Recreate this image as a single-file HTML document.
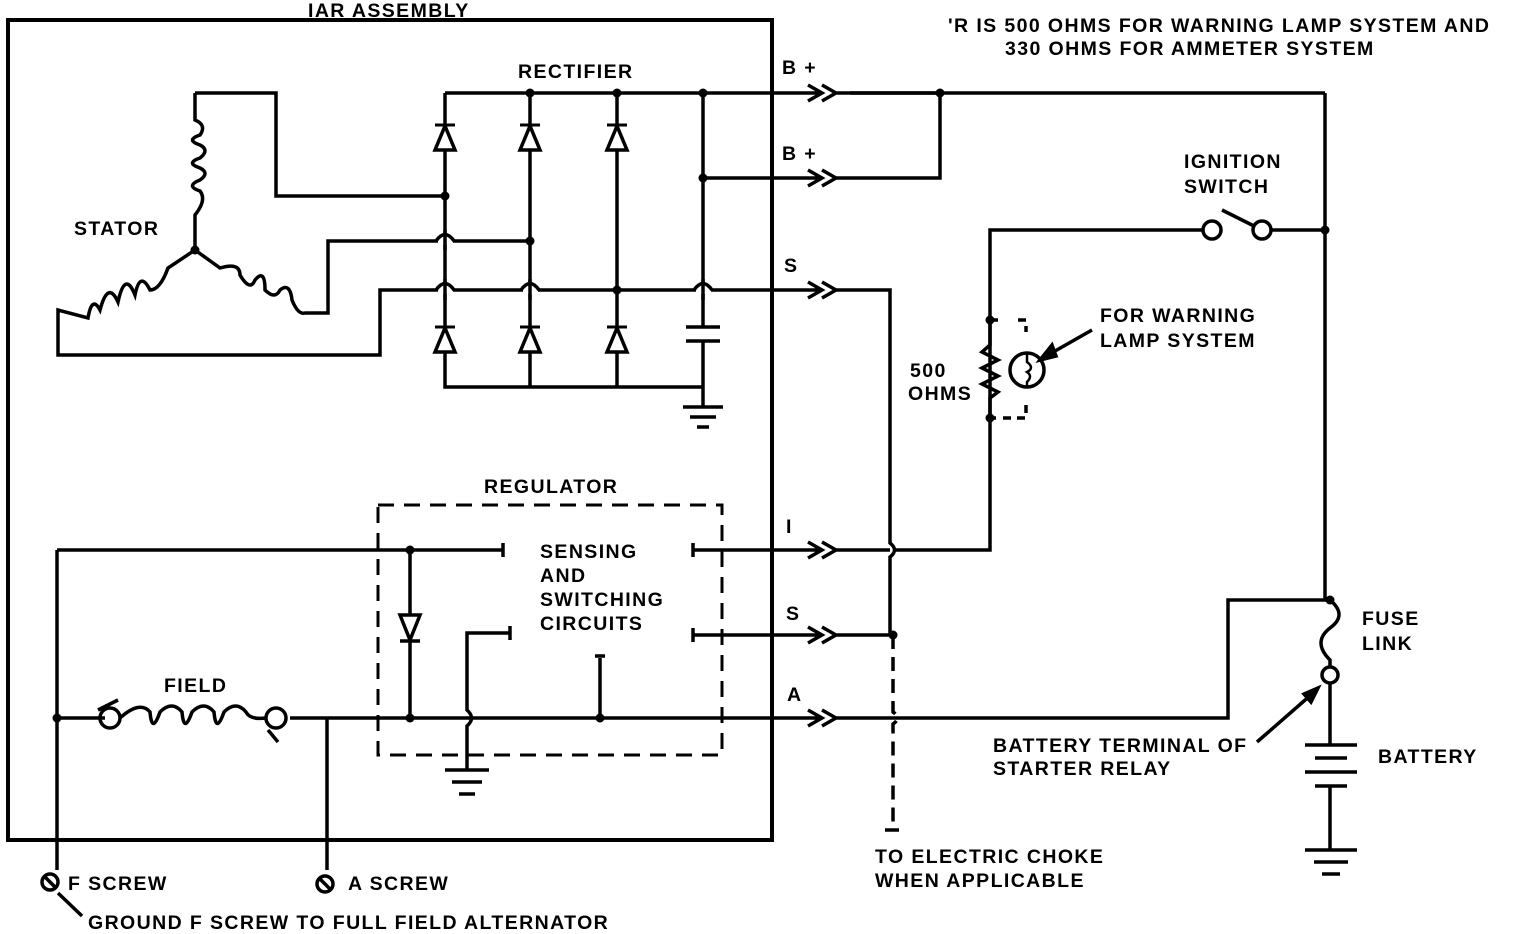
<!DOCTYPE html>
<html><head><style>
html,body{margin:0;padding:0;background:#fff;}
svg{display:block}
text{font-family:"Liberation Sans",sans-serif;font-weight:bold;font-size:19.5px;fill:#000;letter-spacing:1.4px}
</style></head><body>
<svg width="1520" height="934" viewBox="0 0 1520 934" xmlns="http://www.w3.org/2000/svg">
<g fill="none" stroke="#000" stroke-width="3.5" stroke-linejoin="miter">
<rect x="8" y="20" width="764" height="820" stroke-width="4"/>
<path d="M445 93 H775"/>
<path d="M445 93 V387 H703"/>
<path d="M530 93 V387"/>
<path d="M617 93 V387"/>
<path d="M703 93 V327 M703 341 V407"/>
<path d="M686 327 H720 M686 341 H720"/>
<path d="M683 407 H723 M690 417 H716 M697 427 H709"/>
<path d="M703 178 H775"/>
<g fill="#fff">
<path d="M445 126 L435 150 H455 Z"/><path d="M530 126 L520 150 H540 Z"/><path d="M617 126 L607 150 H627 Z"/>
<path d="M445 328 L435 352 H455 Z"/><path d="M530 328 L520 352 H540 Z"/><path d="M617 328 L607 352 H627 Z"/>
</g>
<path d="M435 125 H455 M520 125 H540 M607 125 H627 M435 327 H455 M520 327 H540 M607 327 H627" stroke-width="3"/>
<path d="M195 93 H276 V196 H445"/>
<path d="M195 93 V120 Q207 125 200 135 Q185 140 200 145 Q210 150 200 158 Q185 163 200 168 Q210 173 200 180 Q185 186 200 191 Q207 200 195 215 V250"/>
<path d="M195 250 L168 268 Q160 290 150 290 Q140 270 135 295 Q125 270 118 302 Q108 280 100 310 Q92 295 88 318 L58 310 V355 H380 V290 H775"/>
<path d="M195 250 L220 268 Q240 262 240 275 Q250 292 255 280 Q265 268 265 290 Q275 300 280 290 Q290 282 292 300 Q298 315 305 313 H328 V241 H530"/>
</g>
<g fill="#fff" stroke="none">
<rect x="438" y="233" width="15" height="12"/><rect x="438" y="282" width="15" height="12"/>
<rect x="523" y="282" width="15" height="12"/><rect x="696" y="282" width="15" height="12"/>
</g>
<g fill="none" stroke="#000" stroke-width="3.5">
<path d="M436 241 Q445 228 454 241 M436 290 Q445 277 454 290 M521 290 Q530 277 539 290 M694 290 Q703 277 712 290"/>
<path d="M445 230 V250 M445 279 V300 M530 279 V300 M703 279 V300"/>
</g>
<g fill="#000">
<circle cx="445" cy="196" r="4.5"/><circle cx="530" cy="93" r="4.5"/><circle cx="617" cy="93" r="4.5"/><circle cx="703" cy="93" r="4.5"/>
<circle cx="530" cy="241" r="4.5"/><circle cx="617" cy="290" r="4.5"/><circle cx="703" cy="178" r="4.5"/><circle cx="195" cy="250" r="4.5"/>
<circle cx="940" cy="93" r="4.5"/><circle cx="1325" cy="230" r="4.5"/><circle cx="990" cy="320" r="4.5"/><circle cx="990" cy="418" r="4.5"/>
<circle cx="893" cy="635" r="4.5"/><circle cx="1330" cy="600" r="4.5"/>
<circle cx="57" cy="718" r="4.5"/><circle cx="410" cy="718" r="4.5"/><circle cx="410" cy="550" r="4.5"/><circle cx="600" cy="718" r="4.5"/>
</g>
<g fill="none" stroke="#000" stroke-width="3.5">
<path d="M775 93 H820 M808 85 L822 93 L808 101 M822 85 L836 93 L822 101 M836 93 H940"/>
<path d="M775 178 H820 M808 170 L822 178 L808 186 M822 170 L836 178 L822 186 M836 178 H940 V93"/>
<path d="M775 290 H820 M808 282 L822 290 L808 298 M822 282 L836 290 L822 298 M836 290 H890 V543 Q899 550 890 557 V635"/>
<path d="M693 550 H820 M808 542 L822 550 L808 558 M822 542 L836 550 L822 558 M836 550 H890 M896 550 H990 V230 H1202 M1272 230 H1325"/>
<path d="M693 635 H820 M808 627 L822 635 L808 643 M822 627 L836 635 L822 643 M836 635 H893"/>
<path d="M693 543 V557 M693 628 V642"/>
<path d="M805 718 H820 M808 710 L822 718 L808 726 M822 710 L836 718 L822 726 M836 718 H1228 V600 H1330"/>
<path d="M893 635 V712 Q902 718 893 724 V830 M885 830 H900" stroke-dasharray="14 8"/>
<circle cx="1212" cy="230" r="9" fill="#fff"/><circle cx="1262" cy="230" r="9" fill="#fff"/>
<path d="M1222 210 L1254 226"/>
<path d="M1325 93 V600"/>
<path d="M850 93 H1325"/>
<path d="M990 320 V345 L982 352 L998 360 L982 368 L998 376 L982 384 L998 392 L990 398 V418"/>
<path d="M990 320 H1002 M1018 320 H1026 V332 M1026 405 V418 H1002 M990 418 H996" stroke-dasharray="8 6"/>
<circle cx="1027" cy="370" r="17"/>
<path d="M1027 353 V362 Q1035 368 1027 372 Q1033 376 1027 382 V387" stroke-width="2.5"/>
<path d="M1092 330 L1048 355"/>
<path d="M1040 360 L1052 345 L1056 356 Z" fill="#000"/>
<path d="M1330 600 Q1348 615 1330 628 Q1312 642 1330 660 V666"/>
<circle cx="1330" cy="675" r="8"/>
<path d="M1330 684 V745 M1305 745 H1357 M1315 758 H1347 M1305 772 H1357 M1315 786 H1347 M1330 786 V850 M1305 850 H1357 M1314 862 H1348 M1322 874 H1340"/>
<path d="M1257 742 L1312 694"/>
<path d="M1318 688 L1304 694 L1311 702 Z" fill="#000"/>
<rect x="378" y="505" width="344" height="250" stroke-dasharray="16 10" stroke-width="3"/>
<path d="M57 550 H503 M503 543 V557"/>
<path d="M410 550 V718"/>
<path d="M410 640 L400 615 H420 Z" fill="#fff"/><path d="M400 641 H420"/>
<path d="M510 626 V640 M510 633 H467 V710 Q476 718 467 726 V770 M445 770 H489 M452 782 H482 M459 794 H475"/>
<path d="M600 718 V658 M595 656 H605"/>
<path d="M57 550 V870 M327 718 V870"/>
<path d="M57 718 H105 M290 718 H805"/>
<circle cx="110" cy="718" r="10"/><circle cx="276" cy="718" r="10"/>
<path d="M98 710 L118 700 M268 730 L278 742"/>
<path d="M120 718 Q140 700 150 712 Q152 735 160 712 Q172 700 182 712 Q184 735 192 712 Q204 700 214 712 Q216 735 224 712 Q236 700 246 712 Q250 720 266 718"/>
<circle cx="50" cy="882" r="8"/><path d="M44 876 L56 888"/>
<circle cx="325" cy="884" r="8"/><path d="M319 878 L331 890"/>
<path d="M58 893 L82 916"/>
</g>
<g>
<text x="308" y="17">IAR ASSEMBLY</text>
<text x="948" y="32">'R IS 500 OHMS FOR WARNING LAMP SYSTEM AND</text>
<text x="1005" y="55">330 OHMS FOR AMMETER SYSTEM</text>
<text x="518" y="78">RECTIFIER</text>
<text x="74" y="235">STATOR</text>
<text x="782" y="74">B +</text>
<text x="782" y="160">B +</text>
<text x="784" y="272">S</text>
<text x="1184" y="168">IGNITION</text>
<text x="1184" y="193">SWITCH</text>
<text x="1100" y="322">FOR WARNING</text>
<text x="1100" y="347">LAMP SYSTEM</text>
<text x="910" y="377">500</text>
<text x="908" y="400">OHMS</text>
<text x="484" y="493">REGULATOR</text>
<text x="540" y="558">SENSING</text>
<text x="540" y="582">AND</text>
<text x="540" y="606">SWITCHING</text>
<text x="540" y="630">CIRCUITS</text>
<text x="786" y="533">I</text>
<text x="786" y="620">S</text>
<text x="787" y="701">A</text>
<text x="164" y="692">FIELD</text>
<text x="1362" y="625">FUSE</text>
<text x="1362" y="650">LINK</text>
<text x="993" y="752">BATTERY TERMINAL OF</text>
<text x="993" y="775">STARTER RELAY</text>
<text x="1378" y="763">BATTERY</text>
<text x="875" y="863">TO ELECTRIC CHOKE</text>
<text x="875" y="887">WHEN APPLICABLE</text>
<text x="68" y="890">F SCREW</text>
<text x="348" y="890">A SCREW</text>
<text x="88" y="929">GROUND F SCREW TO FULL FIELD ALTERNATOR</text>
</g>
</svg>
</body></html>
